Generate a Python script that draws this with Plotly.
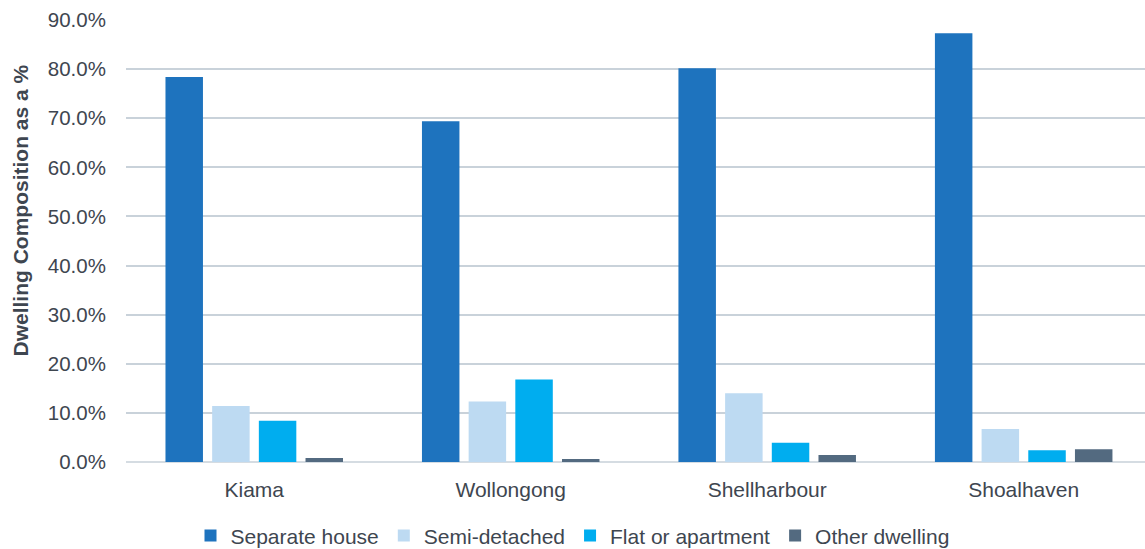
import plotly.graph_objects as go

regions = ["Kiama", "Wollongong", "Shellharbour", "Shoalhaven"]
separate_house = [78.4, 69.4, 80.2, 87.3]
semi_detached = [11.4, 12.3, 14.0, 6.7]
flat_apartment = [8.4, 16.8, 3.9, 2.4]
other_dwelling = [0.8, 0.6, 1.4, 2.6]

series = [
    ("Separate house", separate_house, "#1E73BE"),
    ("Semi-detached", semi_detached, "#BDDAF2"),
    ("Flat or apartment", flat_apartment, "#00ADEF"),
    ("Other dwelling", other_dwelling, "#536A80"),
]

fig = go.Figure()
for name, vals, col in series:
    fig.add_trace(go.Bar(x=regions, y=vals, name=name, marker=dict(color=col, line=dict(width=0))))

txt = "#3E4650"
fig.update_layout(
    width=1145, height=549,
    barmode="group", bargap=0.272, bargroupgap=0.197,
    plot_bgcolor="white", paper_bgcolor="white",
    font=dict(family="Liberation Sans, Arial", size=20, color=txt),
    margin=dict(l=126, r=0, t=20, b=87, autoexpand=False),
    yaxis=dict(
        range=[0, 90], dtick=10, tickformat=".1f", ticksuffix="%",
        showgrid=True, gridcolor="#C9D2DA", gridwidth=1.5,
        zeroline=True, zerolinecolor="#D5DCE2", zerolinewidth=2,
        ticks="outside", ticklen=15, tickcolor="rgba(0,0,0,0)",
        tickfont=dict(size=20.5, color=txt),
        automargin=False,
    ),
    xaxis=dict(showgrid=False, ticks="outside", ticklen=9, tickcolor="rgba(0,0,0,0)",
               showline=False, range=[-0.5, 3.473], tickfont=dict(size=21, color=txt),
               automargin=False),
    legend=dict(orientation="h", x=0.5, xref="container", xanchor="center",
                y=0.024, yref="container", yanchor="middle",
                font=dict(size=21, color=txt), traceorder="normal", itemwidth=30,
                tracegroupgap=0),
    annotations=[dict(
        text="<b>Dwelling Composition as a %</b>", textangle=-90,
        xref="paper", yref="paper", x=(20 - 126) / 1019, y=(462 - 210.5) / 442,
        xanchor="center", yanchor="middle", showarrow=False,
        font=dict(size=21, color=txt),
    )],
)

fig.write_html("out.html", config={"displayModeBar": False},
               post_script="document.body.style.margin='0';document.body.style.overflow='hidden';")
